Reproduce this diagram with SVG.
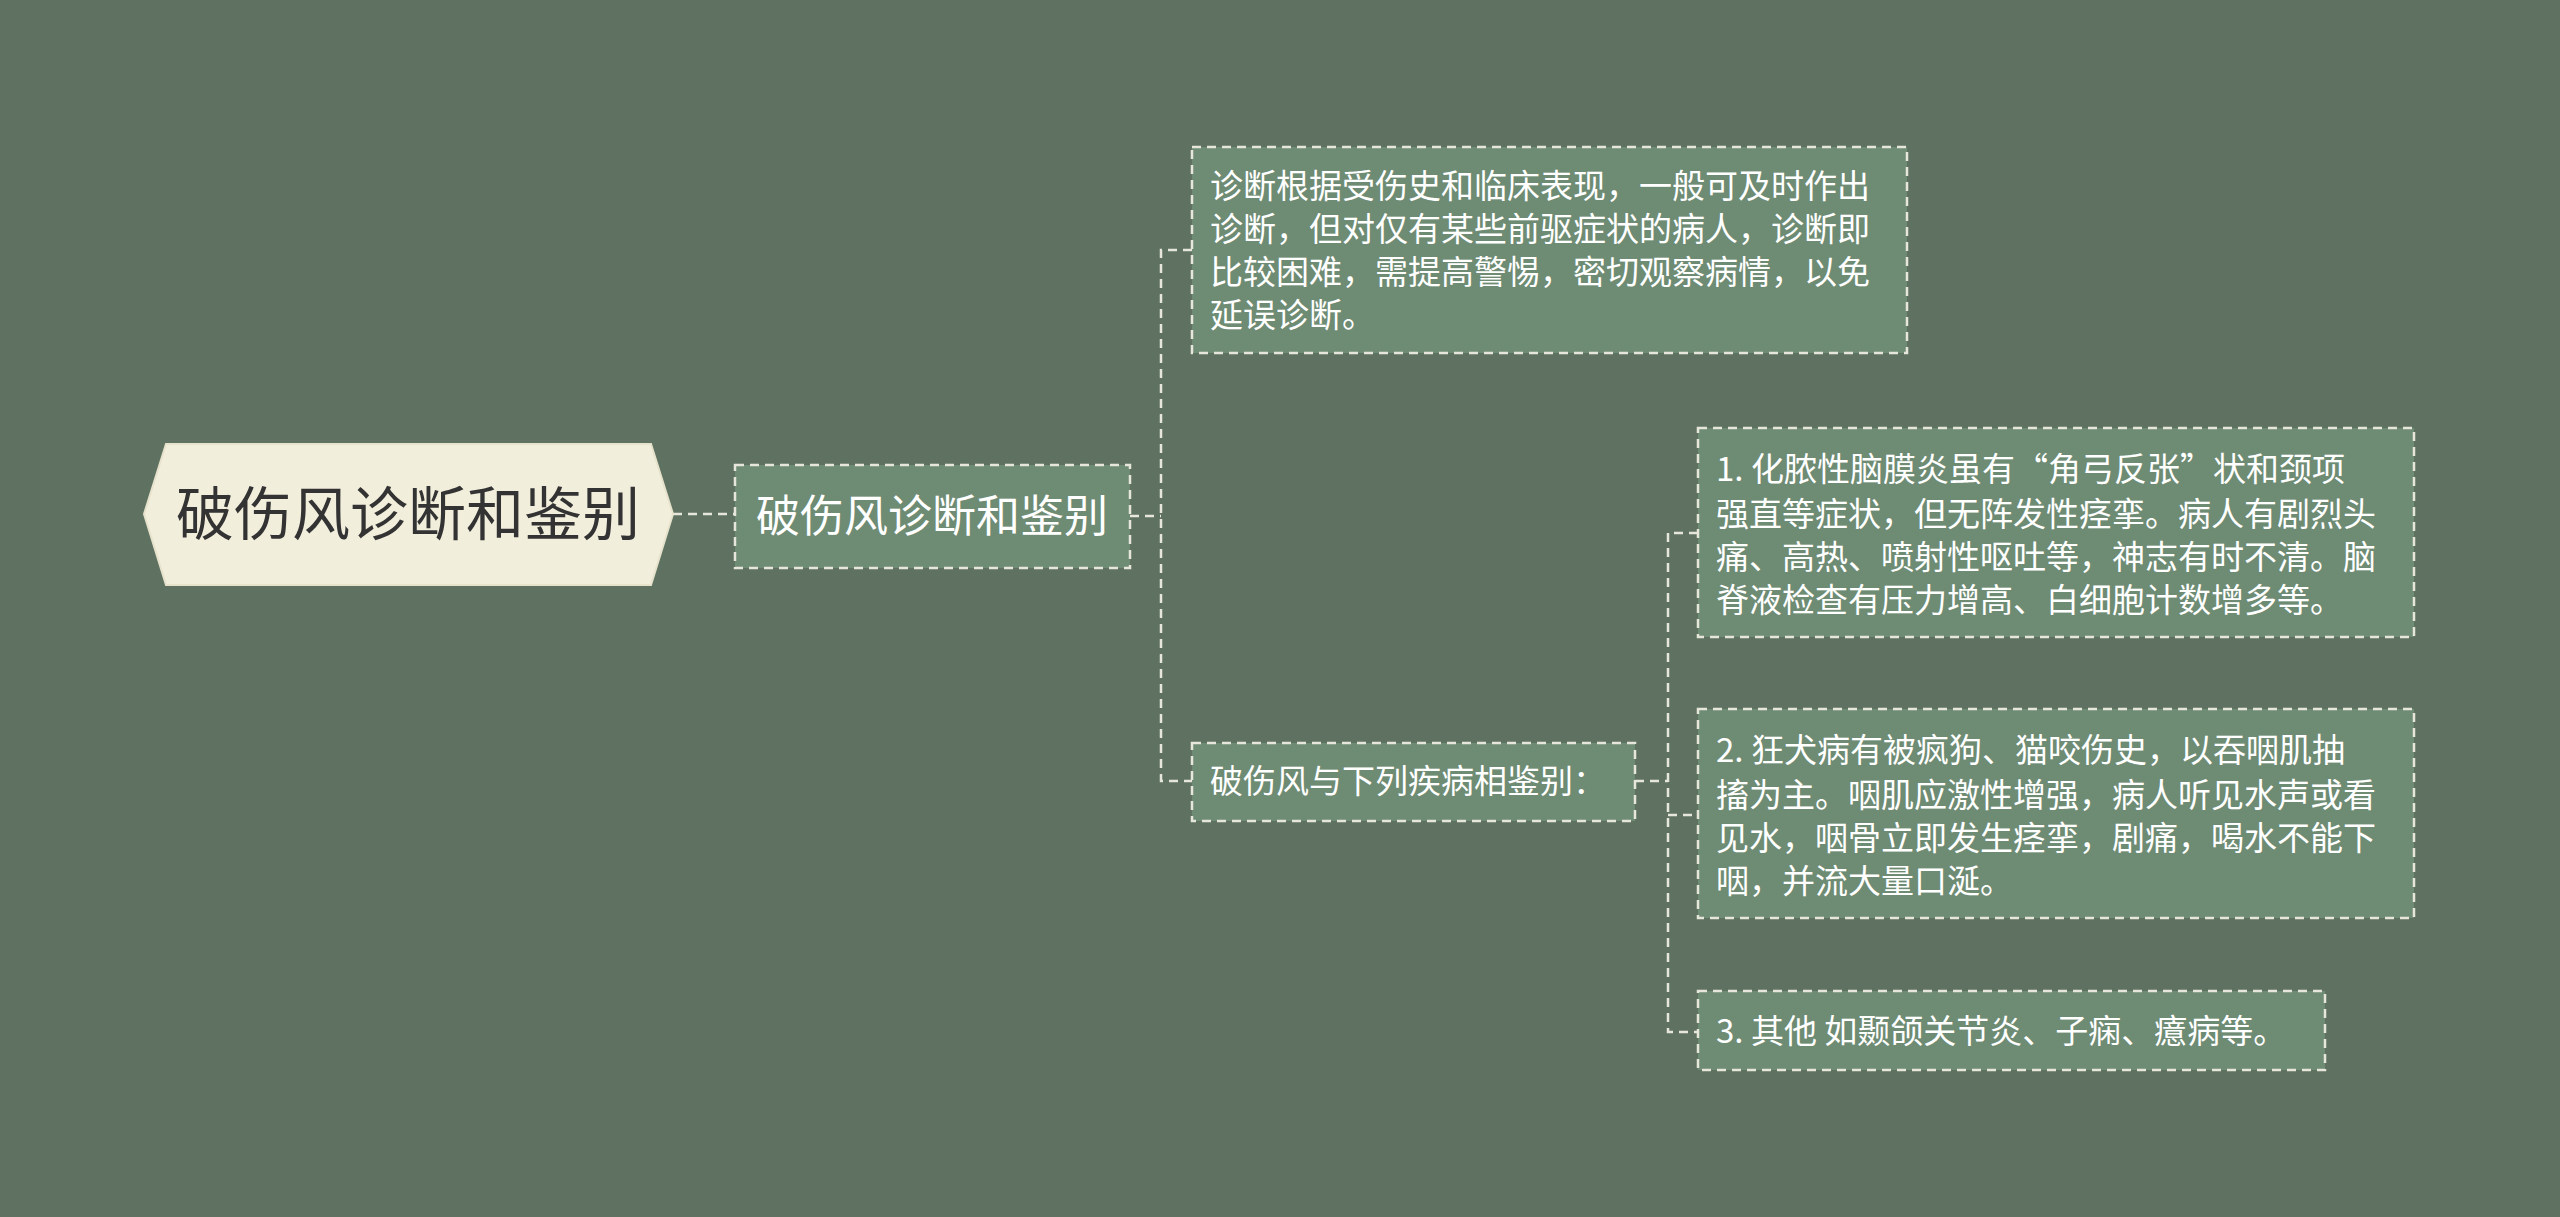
<svg xmlns="http://www.w3.org/2000/svg" width="2560" height="1217" viewBox="0 0 2560 1217">
<style>
.box{fill:#6e8b74;stroke:#e6e6dc;stroke-width:2.5;stroke-dasharray:9 6}
.t{font-family:"Noto Sans CJK SC","Liberation Sans",sans-serif;fill:#ffffff;font-size:33px}
.c{fill:none;stroke:#e6e6dc;stroke-width:2.5;stroke-dasharray:9 6}
</style>
<rect width="2560" height="1217" fill="#5f7261"/>
<g id="connectors">
<path class="c" d="M673 514H735"/>
<path class="c" d="M1130 516H1161M1192 250H1161V781H1192"/>
<path class="c" d="M1635 781H1668M1698 533H1668V1032H1698M1668 815H1698"/>
</g>
<g id="root">
<polygon points="144,514 166,444 651,444 673,514 651,585 166,585" fill="#f2eedc" stroke="#e6e2cc" stroke-width="2"/>
<text x="408" y="535" text-anchor="middle" font-family="Noto Sans CJK SC,sans-serif" font-size="58" fill="#333333">破伤风诊断和鉴别</text>
</g>
<g id="sub1">
<rect class="box" x="735" y="465" width="395" height="103"/>
<text class="t" x="932" y="532" text-anchor="middle" style="font-size:44px">破伤风诊断和鉴别</text>
</g>
<g id="boxA">
<rect class="box" x="1192" y="147" width="715" height="206"/>
<text class="t" x="1210" y="198">诊断根据受伤史和临床表现，一般可及时作出</text>
<text class="t" x="1210" y="241">诊断，但对仅有某些前驱症状的病人，诊断即</text>
<text class="t" x="1210" y="284">比较困难，需提高警惕，密切观察病情，以免</text>
<text class="t" x="1210" y="327">延误诊断。</text>
</g>
<g id="boxB">
<rect class="box" x="1192" y="743" width="443" height="78"/>
<text class="t" x="1210" y="793">破伤风与下列疾病相鉴别：</text>
</g>
<g id="box1">
<rect class="box" x="1698" y="428" width="716" height="209"/>
<text class="t" x="1716" y="481">1. 化脓性脑膜炎虽有“角弓反张”状和颈项</text>
<text class="t" x="1716" y="526">强直等症状，但无阵发性痉挛。病人有剧烈头</text>
<text class="t" x="1716" y="569">痛、高热、喷射性呕吐等，神志有时不清。脑</text>
<text class="t" x="1716" y="612">脊液检查有压力增高、白细胞计数增多等。</text>
</g>
<g id="box2">
<rect class="box" x="1698" y="709" width="716" height="209"/>
<text class="t" x="1716" y="762">2. 狂犬病有被疯狗、猫咬伤史，以吞咽肌抽</text>
<text class="t" x="1716" y="807">搐为主。咽肌应激性增强，病人听见水声或看</text>
<text class="t" x="1716" y="850">见水，咽骨立即发生痉挛，剧痛，喝水不能下</text>
<text class="t" x="1716" y="893">咽，并流大量口涎。</text>
</g>
<g id="box3">
<rect class="box" x="1698" y="991" width="627" height="79"/>
<text class="t" x="1716" y="1043">3. 其他 如颞颌关节炎、子痫、癔病等。</text>
</g>
</svg>
